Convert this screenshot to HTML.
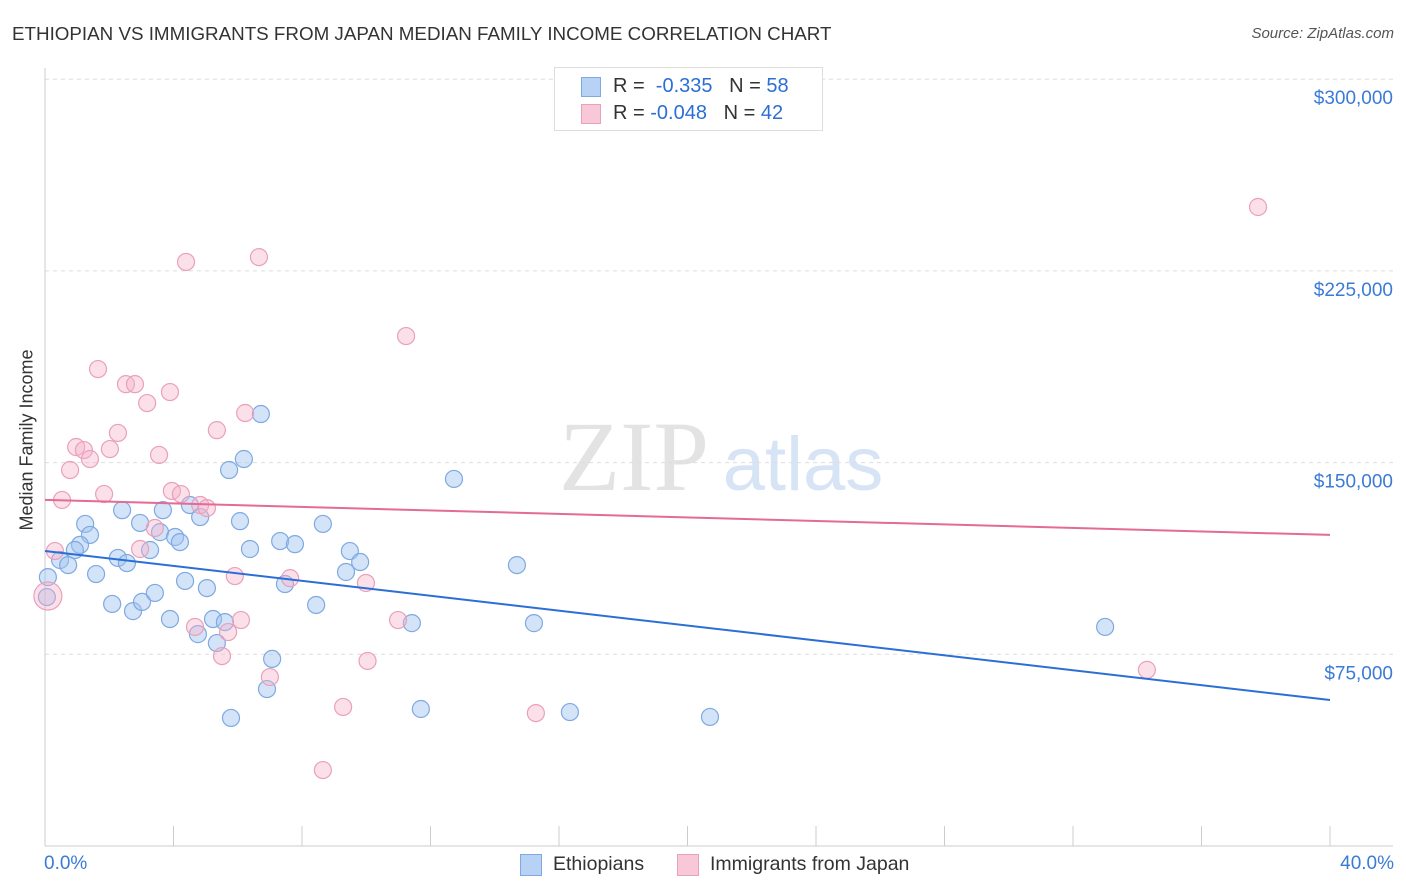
<!DOCTYPE html>
<html><head><meta charset="utf-8">
<style>
body{margin:0;background:#fff;font-family:"Liberation Sans",sans-serif;}
#wrap{position:relative;width:1406px;height:892px;overflow:hidden;}
.t{position:absolute;white-space:nowrap;}
</style></head><body>
<div id="wrap">
<div class="t" style="left:12px;top:23px;font-size:18.8px;color:#333;">ETHIOPIAN VS IMMIGRANTS FROM JAPAN MEDIAN FAMILY INCOME CORRELATION CHART</div>
<div class="t" style="right:12px;top:25px;font-size:15px;color:#555;font-style:italic;">Source: ZipAtlas.com</div>
<svg id="svg" width="1406" height="892" style="position:absolute;left:0;top:0"></svg>
</div>
<script>
const blueX=[0.09,0.06,0.47,0.72,1.25,1.40,1.09,0.93,1.59,2.09,2.27,2.55,2.40,2.74,2.96,3.02,3.27,3.42,3.67,3.58,3.89,4.05,4.20,4.36,4.51,4.76,4.83,5.04,5.23,5.35,5.60,5.73,5.79,6.07,6.19,6.38,6.72,6.91,7.07,7.32,7.47,7.78,8.44,8.65,9.37,9.49,9.81,11.42,11.70,12.73,14.69,15.22,16.34,20.70,33.00];
const blueY=[105.2,97.4,111.9,109.9,126.0,121.7,117.8,115.8,106.4,94.7,112.7,110.7,131.4,91.9,126.4,95.5,115.8,99.0,131.4,122.8,88.8,120.9,118.9,103.7,133.4,82.9,128.7,100.9,88.8,79.4,87.6,147.1,50.1,127.1,151.4,116.2,169.0,61.4,73.2,119.3,102.5,118.1,94.3,126.0,107.2,115.4,111.1,87.2,53.6,143.6,109.9,87.2,52.4,50.5,85.7];
const pinkX=[0.09,0.31,0.53,0.78,0.97,1.21,1.40,1.65,1.84,2.02,2.27,2.52,2.80,2.96,3.18,3.42,3.55,3.89,3.95,4.23,4.39,4.67,4.83,5.04,5.35,5.51,5.70,5.91,6.10,6.23,6.66,7.00,7.63,8.65,9.28,10.04,9.99,10.99,11.24,15.28,34.30,37.76];
const pinkY=[97.8,115.4,135.4,147.1,156.1,154.9,151.4,186.6,137.7,155.3,161.6,180.7,180.7,116.2,173.3,124.4,153.0,177.6,138.9,137.7,228.5,85.7,133.4,132.2,162.7,74.3,83.7,105.6,88.4,169.4,230.4,66.1,104.8,29.7,54.4,72.4,102.9,88.4,199.5,52.0,68.9,250.0];
const blueTrend=[115.4,57.1];
const pinkTrend=[135.4,121.7];
const yTicks=[75,150,225,300];
const yTickLabels=["$75,000","$150,000","$225,000","$300,000"];
const xTicks=[0,4,8,12,16,20,24,28,32,36,40];

const NS="http://www.w3.org/2000/svg";
const svg=document.getElementById('svg');
const X=v=>45+v/40*1285;
const Y=v=>846-v/75*191.7;
function el(t,a){const e=document.createElementNS(NS,t);for(const k in a)e.setAttribute(k,a[k]);svg.appendChild(e);return e;}
let w=el('text',{x:634,y:490,'font-size':100,'font-family':'Liberation Serif,serif',fill:'#e3e3e3','text-anchor':'middle'});w.textContent='ZIP';


let w2=el('text',{x:803,y:490,'font-size':76,'font-family':'Liberation Sans,sans-serif',fill:'#d6e4f5','text-anchor':'middle'});w2.textContent='atlas';


yTicks.forEach((v,i)=>{
 const g=el('line',{x1:45,x2:1393,y1:Y(v),y2:Y(v),stroke:'#ddd','stroke-dasharray':'4,4'});
 
 
 const t=el('text',{x:1393,y:Y(v)+25,'font-size':19,fill:'#3a7bd5','text-anchor':'end'});t.textContent=yTickLabels[i];
 
 
});
let ax=el('line',{x1:45,x2:45,y1:68,y2:846,stroke:'#ccc'});


let bx=el('line',{x1:45,x2:1393,y1:846,y2:846,stroke:'#ccc'});


xTicks.forEach(v=>{const l=el('line',{x1:X(v),x2:X(v),y1:826,y2:846,stroke:'#ccc'});
 
 });
function pts(xs,ys,fill,stroke,name){xs.forEach((x,i)=>{const c=el('circle',{cx:X(x),cy:Y(ys[i]),r:(i==0&&name=='japan-point')?14:8.5,fill:fill,stroke:stroke,'stroke-width':1.2});
 
 });}
pts(blueX,blueY,'rgba(160,196,240,0.45)','#7ea9e1','ethiopian-point');
pts(pinkX,pinkY,'rgba(246,178,202,0.4)','#eaa0ba','japan-point');
let bl=el('line',{x1:X(0),y1:Y(blueTrend[0]),x2:X(40),y2:Y(blueTrend[1]),stroke:'#2b6fd6','stroke-width':2});


let pl=el('line',{x1:X(0),y1:Y(pinkTrend[0]),x2:X(40),y2:Y(pinkTrend[1]),stroke:'#e36b95','stroke-width':2});


</script>
<div class="t" style="left:-48px;top:445px;transform:rotate(-90deg);font-size:18px;color:#333;width:150px;text-align:center;">Median Family Income</div>
<div class="t" style="left:44px;top:853px;font-size:19px;color:#3a7bd5;">0.0%</div>
<div class="t" style="right:12px;top:853px;font-size:19px;color:#3a7bd5;">40.0%</div>
<div style="position:absolute;left:554px;top:67px;width:267px;height:62px;border:1px solid #ddd;background:#fff;font-size:20px;color:#333;">
 <div style="position:absolute;left:26px;top:9px;width:18px;height:18px;background:#b7d2f5;border:1px solid #7ea9e1;"></div>
 <div class="t" style="left:58px;top:7px;">R = &nbsp;<span style="color:#2b6fd6">-0.335</span> &nbsp;&nbsp;N = <span style="color:#2b6fd6">58</span></div>
 <div style="position:absolute;left:26px;top:36px;width:18px;height:18px;background:#f8c8d8;border:1px solid #eaa0ba;"></div>
 <div class="t" style="left:58px;top:34px;">R = <span style="color:#2b6fd6">-0.048</span> &nbsp;&nbsp;N = <span style="color:#2b6fd6">42</span></div>
</div>
<div style="position:absolute;left:520px;top:853px;font-size:19.5px;color:#333;">
 <div style="position:absolute;left:0;top:0;width:200px;"><div style="position:absolute;left:0;top:1px;width:20px;height:20px;background:#b7d2f5;border:1px solid #7ea9e1;"></div><span class="t" style="left:33px;top:0;">Ethiopians</span></div>
 <div style="position:absolute;left:157px;top:0;width:260px;"><div style="position:absolute;left:0;top:1px;width:20px;height:20px;background:#f8c8d8;border:1px solid #eaa0ba;"></div><span class="t" style="left:33px;top:0;">Immigrants from Japan</span></div>
</div>
</body></html>
